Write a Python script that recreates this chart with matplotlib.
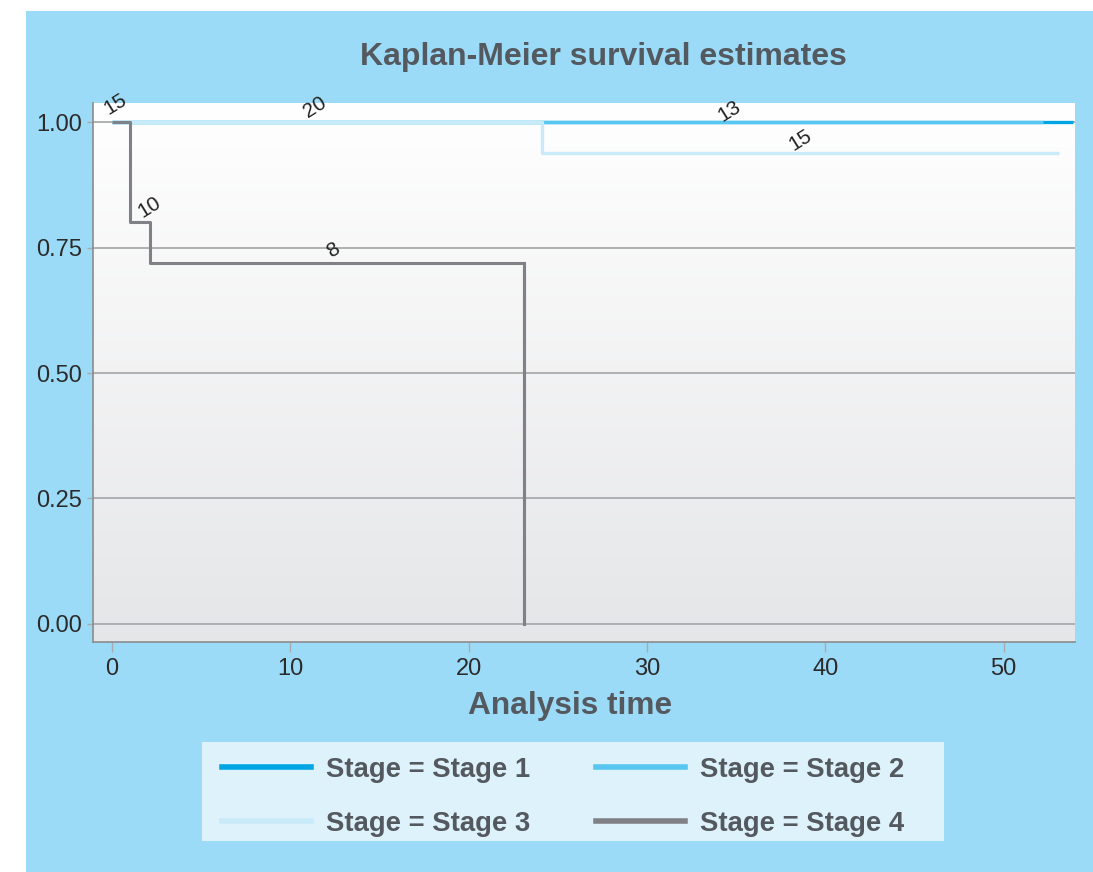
import numpy as np
import matplotlib
matplotlib.use("Agg")
import matplotlib.pyplot as plt
from matplotlib.patches import Rectangle
from matplotlib.lines import Line2D

# ---- data ----
stages = ["Stage 1", "Stage 2", "Stage 3", "Stage 4"]
s1_time = [0, 53.9]
s1_surv = [1.0, 1.0]
s2_time = [0, 52.2]
s2_surv = [1.0, 1.0]
s3_time = [0, 24.1, 53.1]
s3_surv = [1.0, 0.938, 0.938]
s4_time = [0, 1.0, 2.1, 23.1]
s4_surv = [1.0, 0.80, 0.72, 0.0]

risk_labels = ["15", "20", "10", "8", "13", "15"]
risk_x = [0.17, 11.4, 2.1, 12.4, 34.6, 38.6]
risk_y = [1.036, 1.03, 0.83, 0.745, 1.022, 0.964]

yticks = [0.0, 0.25, 0.50, 0.75, 1.00]
xticks = [0, 10, 20, 30, 40, 50]

colors = ["#00a6e4", "#57c6f0", "#c9ebf9", "#808186"]
widths = [2.4, 2.4, 2.4, 2.2]

plt.rcParams['font.family'] = ['Liberation Sans', 'DejaVu Sans']

W, H = 1093, 872
fig = plt.figure(figsize=(W / 100, H / 100), dpi=100)
fig.patch.set_facecolor("white")
fig.patches.append(Rectangle((26 / W, 0), 1 - 26 / W, 1 - 11 / H,
                             transform=fig.transFigure, facecolor="#9cdbf7",
                             edgecolor="none", zorder=-2))
fig.patches.append(Rectangle((202 / W, 1 - 841 / H), 742 / W, 99 / H,
                             transform=fig.transFigure, facecolor="#def2fb",
                             edgecolor="none", zorder=-1))

ax = fig.add_axes([93 / W, 1 - 642 / H, (1075 - 93) / W, (642 - 103) / H])
ax.set_zorder(2)
ax.set_facecolor("none")
grad = np.linspace(0, 1, 256).reshape(-1, 1)
top = np.array([1.0, 1.0, 1.0])
bot = np.array([0xe5, 0xe6, 0xe8]) / 255
img = top[None, None, :] * (1 - grad[:, :, None]) + bot[None, None, :] * grad[:, :, None]
ax.imshow(img, extent=[0, 1, 0, 1], transform=ax.transAxes, aspect="auto",
          zorder=0, interpolation="bilinear")

ax.set_xlim(-1.07, 54.0)
ax.set_ylim(-0.036, 1.038)

for y in yticks:
    ax.axhline(y, color="#a9aaad", lw=1.3, zorder=1)

series = [(s1_time, s1_surv), (s2_time, s2_surv), (s3_time, s3_surv), (s4_time, s4_surv)]
for (t, s), c, w in zip(series, colors, widths):
    ax.step(t, s, where="post", color=c, lw=w, zorder=3, solid_capstyle="butt")
# Stage 4 final drop to zero
ax.plot([s4_time[-1], s4_time[-1]], [s4_surv[-2], s4_surv[-1]], color=colors[3],
        lw=widths[3], zorder=3)

for lab, x, y in zip(risk_labels, risk_x, risk_y):
    ax.text(x, y, lab, rotation=32, ha="center", va="center", fontsize=15,
            color="#222222", zorder=5, rotation_mode="anchor", clip_on=False)

for sp in ["top", "right"]:
    ax.spines[sp].set_visible(False)
for sp in ["left", "bottom"]:
    ax.spines[sp].set_color("#8a8b8e")
    ax.spines[sp].set_linewidth(1.2)

ax.set_yticks(yticks)
ax.set_yticklabels([f"{v:.2f}" for v in yticks])
ax.set_xticks(xticks)
ax.tick_params(axis="y", length=4.5, width=1, color="#a9aaad", pad=3.5,
               labelsize=17, labelcolor="#2b2b2b")
ax.tick_params(axis="x", length=7.5, width=1, color="#a9aaad", pad=4,
               labelsize=17, labelcolor="#2b2b2b")

ax.set_xlabel("Analysis time", fontsize=22.8, fontweight="bold", color="#54595f",
              labelpad=8)
ax.xaxis.set_label_coords((570 - 93) / (1075 - 93), -(706 - 642) / (642 - 103))
ax.xaxis.label.set_va("center")
fig.text(603 / W, 1 - 57 / H, "Kaplan-Meier survival estimates", ha="center",
         va="center", fontsize=23, fontweight="bold", color="#54595f")

# legend filled row-wise: Stage1, Stage2 / Stage3, Stage4
order = [0, 2, 1, 3]
handles = [Line2D([], [], color=colors[i], lw=4) for i in order]
labels = ["Stage = " + stages[i] for i in order]
fs = 19.8
px = fs * 100 / 72
leg = fig.legend(handles, labels, ncol=2, loc="upper left",
                 bbox_to_anchor=(222 / W, 1 - 757 / H),
                 borderaxespad=0, borderpad=0, frameon=False,
                 prop={"weight": "bold", "size": fs}, handlelength=89 / px,
                 handletextpad=15 / px, labelspacing=1.0,
                 columnspacing=66 / px, labelcolor="#54595f")

fig.savefig("out.png", dpi=100)
